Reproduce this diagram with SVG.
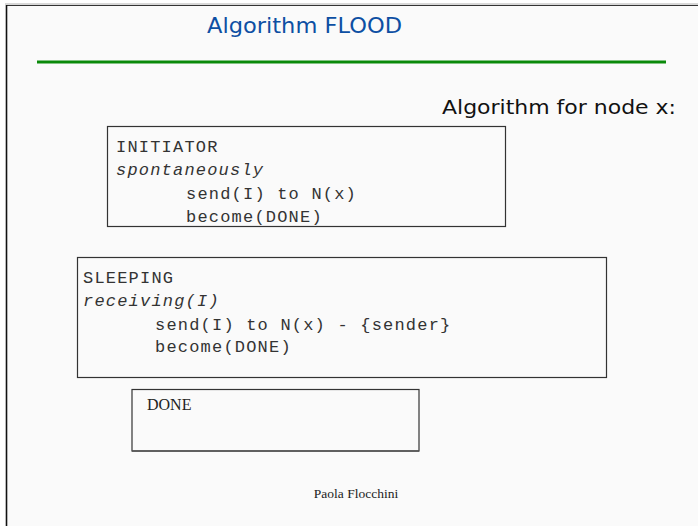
<svg xmlns="http://www.w3.org/2000/svg" width="698" height="526" viewBox="0 0 698 526">
  <style>
    .page { fill: #fafafa; }
    .box { fill: #fafafa; stroke: #333333; stroke-width: 1.2; }
    .mono { font-family: "Liberation Mono", "Courier New", monospace; font-size: 17px; letter-spacing: 1.2px; fill: #333333; }
    .it { font-style: italic; }
    .serif { font-family: "Liberation Serif", "Times New Roman", serif; fill: #222222; }
    .comic { font-family: "DejaVu Sans", "Open Sans", sans-serif; }
  </style>
  <rect x="0" y="0" width="698" height="526" fill="#ffffff"/>
  <rect class="page" x="6" y="5" width="692" height="521"/>
  <line x1="5" y1="4" x2="698" y2="4" stroke="#b0b0b0" stroke-width="1"/>
  <line x1="6" y1="5.5" x2="698" y2="5.5" stroke="#333333" stroke-width="1.2"/>
  <line x1="6.5" y1="5" x2="6.5" y2="526" stroke="#111111" stroke-width="1.6"/>

  <g id="title">
    <text class="comic" x="207" y="33" font-size="21" fill="#0d4fa3" textLength="195" lengthAdjust="spacingAndGlyphs">Algorithm FLOOD</text>
    <line x1="37" y1="62" x2="666" y2="62" stroke="#0a8a0a" stroke-width="3"/>
  </g>

  <g id="subtitle">
    <text class="comic" x="442" y="114" font-size="20" fill="#111111" textLength="234" lengthAdjust="spacingAndGlyphs">Algorithm for node x:</text>
  </g>

  <g id="initiator">
    <rect class="box" x="107.5" y="126.5" width="398" height="100"/>
    <text class="mono" x="116" y="152">INITIATOR</text>
    <text class="mono it" x="116" y="175">spontaneously</text>
    <text class="mono" x="186" y="199">send(I) to N(x)</text>
    <text class="mono" x="186" y="222">become(DONE)</text>
  </g>

  <g id="sleeping">
    <rect class="box" x="77.5" y="257.5" width="529" height="120"/>
    <text class="mono" x="83" y="283">SLEEPING</text>
    <text class="mono it" x="83" y="306">receiving(I)</text>
    <text class="mono" x="155" y="330">send(I) to N(x) - {sender}</text>
    <text class="mono" x="155" y="352">become(DONE)</text>
  </g>

  <g id="done">
    <rect class="box" x="132" y="389.5" width="287" height="61.5"/>
    <line x1="132" y1="451" x2="419" y2="451" stroke="#555555" stroke-width="1.5"/>
    <text class="serif" x="147" y="410" font-size="16">DONE</text>
  </g>

  <g id="footer">
    <text class="serif" x="356" y="498" font-size="13.5" text-anchor="middle">Paola Flocchini</text>
  </g>

  <g id="connectors"></g>
</svg>
